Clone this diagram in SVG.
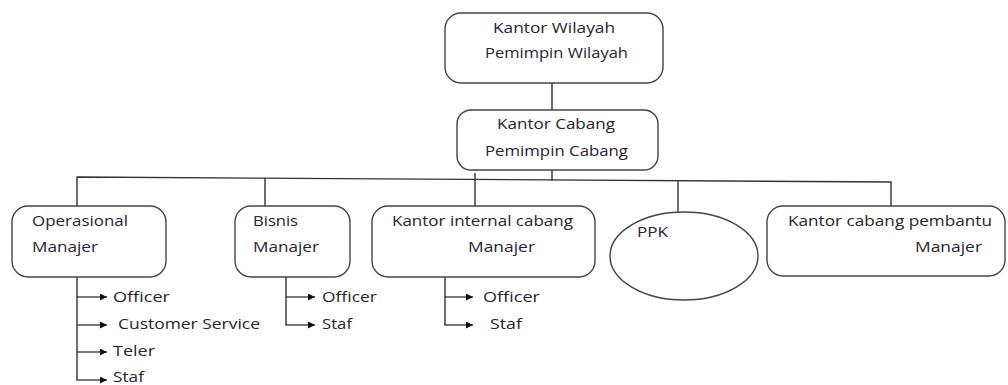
<svg xmlns="http://www.w3.org/2000/svg" width="1008" height="385" viewBox="0 0 1008 385">
<style>
.box{fill:#fff;stroke:#444;stroke-width:1.4}
.ln{fill:none;stroke:#333;stroke-width:1.4}
.ar{fill:none;stroke:#222;stroke-width:1.2;marker-end:url(#ah)}
text{font-family:"Open Sans","Liberation Sans",sans-serif;font-size:14.5px;fill:#2a2230}
</style>
<defs>
<marker id="ah" viewBox="0 0 10 10" refX="10" refY="5" markerWidth="8" markerHeight="7" markerUnits="userSpaceOnUse" orient="auto">
<path d="M0,0 L10,5 L0,10 z" fill="#111"/>
</marker>
</defs>
<rect width="1008" height="385" fill="#fff"/>
<g id="connectors">
<line class="ln" x1="552" y1="83" x2="552" y2="110"/>
<line class="ln" x1="552" y1="170" x2="552" y2="181"/>
<polyline class="ln" points="77,206 77,177 891,182 891,206"/>
<line class="ln" x1="265" y1="178" x2="265" y2="206"/>
<line class="ln" x1="475" y1="173" x2="475" y2="206"/>
<line class="ln" x1="678" y1="181" x2="678" y2="212"/>
<polyline class="ln" points="77,270 77,380"/>
<line class="ar" x1="77" y1="297" x2="107" y2="297"/>
<line class="ar" x1="77" y1="325" x2="107" y2="325"/>
<line class="ar" x1="77" y1="352" x2="107" y2="352"/>
<line class="ar" x1="76.3" y1="380" x2="107" y2="380"/>
<line class="ln" x1="286" y1="277" x2="286" y2="325"/>
<line class="ar" x1="286" y1="297" x2="315" y2="297"/>
<line class="ar" x1="285.3" y1="325" x2="315" y2="325"/>
<line class="ln" x1="445" y1="275" x2="445" y2="325"/>
<line class="ar" x1="445" y1="297" x2="473" y2="297"/>
<line class="ar" x1="444.3" y1="325" x2="473" y2="325"/>
</g>
<g id="kantor-wilayah">
<rect class="box" x="445" y="13" width="218" height="70" rx="16"/>
<text x="493" y="33" textLength="122" lengthAdjust="spacingAndGlyphs">Kantor Wilayah</text>
<text x="485" y="58" textLength="143" lengthAdjust="spacingAndGlyphs">Pemimpin Wilayah</text>
</g>
<g id="kantor-cabang">
<rect class="box" x="457" y="110" width="201" height="60" rx="14"/>
<text x="497" y="129" textLength="118" lengthAdjust="spacingAndGlyphs">Kantor Cabang</text>
<text x="485" y="156" textLength="143" lengthAdjust="spacingAndGlyphs">Pemimpin Cabang</text>
</g>
<g id="operasional">
<rect class="box" x="12" y="206" width="154" height="71" rx="16"/>
<text x="32" y="226" textLength="96" lengthAdjust="spacingAndGlyphs">Operasional</text>
<text x="32" y="252" textLength="66" lengthAdjust="spacingAndGlyphs">Manajer</text>
<text x="113" y="302" textLength="57" lengthAdjust="spacingAndGlyphs">Officer</text>
<text x="118" y="329" textLength="142" lengthAdjust="spacingAndGlyphs">Customer Service</text>
<text x="113" y="356" textLength="42" lengthAdjust="spacingAndGlyphs">Teler</text>
<text x="113" y="382" textLength="31" lengthAdjust="spacingAndGlyphs">Staf</text>
</g>
<g id="bisnis">
<rect class="box" x="235" y="206" width="115" height="71" rx="16"/>
<text x="253" y="226" textLength="45" lengthAdjust="spacingAndGlyphs">Bisnis</text>
<text x="253" y="252" textLength="66" lengthAdjust="spacingAndGlyphs">Manajer</text>
<text x="322" y="302" textLength="55" lengthAdjust="spacingAndGlyphs">Officer</text>
<text x="322" y="329" textLength="30" lengthAdjust="spacingAndGlyphs">Staf</text>
</g>
<g id="kantor-internal-cabang">
<rect class="box" x="372" y="206" width="223" height="71" rx="16"/>
<text x="392" y="226" textLength="181" lengthAdjust="spacingAndGlyphs">Kantor internal cabang</text>
<text x="468" y="252" textLength="67" lengthAdjust="spacingAndGlyphs">Manajer</text>
<text x="483" y="302" textLength="57" lengthAdjust="spacingAndGlyphs">Officer</text>
<text x="490" y="329" textLength="32" lengthAdjust="spacingAndGlyphs">Staf</text>
</g>
<g id="ppk">
<ellipse class="box" cx="684" cy="256" rx="74" ry="44"/>
<text x="637" y="237" textLength="31" lengthAdjust="spacingAndGlyphs">PPK</text>
</g>
<g id="kantor-cabang-pembantu">
<rect class="box" x="767" y="206" width="238" height="70" rx="16"/>
<text x="788" y="226" textLength="204" lengthAdjust="spacingAndGlyphs">Kantor cabang pembantu</text>
<text x="915" y="252" textLength="67" lengthAdjust="spacingAndGlyphs">Manajer</text>
</g>
</svg>
